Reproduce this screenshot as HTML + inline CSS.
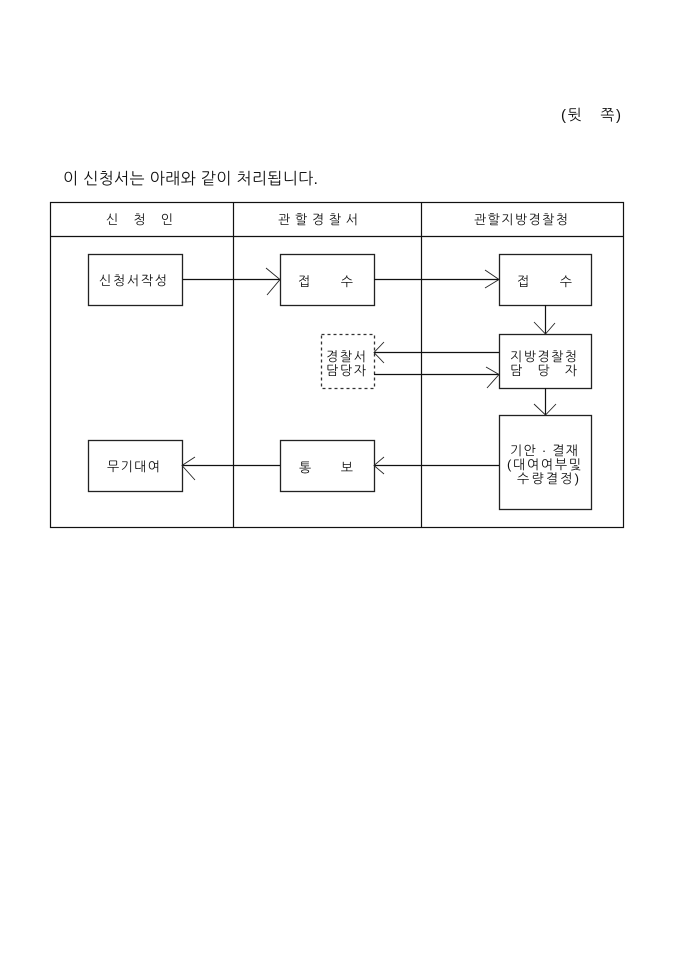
<!DOCTYPE html>
<html lang="ko">
<head>
<meta charset="utf-8">
<style>
html,body{margin:0;padding:0;background:#fff;width:680px;height:962px;overflow:hidden}
svg{display:block}
text{font-family:"Liberation Sans","NanumGothic","Noto Sans CJK KR",sans-serif;fill:#111;font-size:13px}
.l{fill:none;stroke:#111;stroke-width:1.2}
.b{fill:none;stroke:#222;stroke-width:1.3}
.h{fill:none;stroke:#222;stroke-width:.9}
</style>
</head>
<body>
<svg width="680" height="962" viewBox="0 0 680 962" xmlns="http://www.w3.org/2000/svg">
<text x="561" y="120" style="font-size:15px" textLength="60" lengthAdjust="spacing" xml:space="preserve">(뒷   쪽)</text>
<text x="63" y="184" style="font-size:16px" textLength="255" lengthAdjust="spacing">이 신청서는 아래와 같이 처리됩니다.</text>

<rect class="l" x="50.5" y="202.5" width="573" height="325"/>
<path class="l" d="M233.5 202.5V527.5M421.5 202.5V527.5M50.5 236.5H623.5"/>

<text x="106" y="224" textLength="67" lengthAdjust="spacing" xml:space="preserve">신  청  인</text>
<text x="278" y="224" textLength="80" lengthAdjust="spacing">관할경찰서</text>
<text x="474" y="224" textLength="94" lengthAdjust="spacing">관할지방경찰청</text>

<rect class="b" x="88.5" y="254.5" width="94" height="51"/>
<rect class="b" x="280.5" y="254.5" width="94" height="51"/>
<rect class="b" x="499.5" y="254.5" width="92" height="51"/>
<rect class="b" x="499.5" y="334.5" width="92" height="54"/>
<rect class="b" x="499.5" y="415.5" width="92" height="94"/>
<rect class="b" x="88.5" y="440.5" width="94" height="51"/>
<rect class="b" x="280.5" y="440.5" width="94" height="51"/>
<rect x="321.5" y="334.5" width="53" height="54" fill="none" stroke="#333" stroke-width="1.3" stroke-dasharray="3 3"/>

<text x="99" y="285" textLength="68" lengthAdjust="spacing">신청서작성</text>
<text x="298" y="286" textLength="55" lengthAdjust="spacing" xml:space="preserve">접     수</text>
<text x="517" y="286" textLength="55" lengthAdjust="spacing" xml:space="preserve">접     수</text>
<text x="510" y="361" textLength="67" lengthAdjust="spacing">지방경찰청</text>
<text x="510" y="375" textLength="67" lengthAdjust="spacing" xml:space="preserve">담   당   자</text>
<text x="326" y="361" textLength="40" lengthAdjust="spacing">경찰서</text>
<text x="326" y="375" textLength="40" lengthAdjust="spacing">담당자</text>
<text x="510" y="455" textLength="68" lengthAdjust="spacing">기안 · 결재</text>
<text x="507" y="469" textLength="74" lengthAdjust="spacing">(대여여부및</text>
<text x="517" y="483" textLength="62" lengthAdjust="spacing">수량결정)</text>
<text x="107" y="471" textLength="53" lengthAdjust="spacing">무기대여</text>
<text x="299" y="472" textLength="54" lengthAdjust="spacing" xml:space="preserve">통     보</text>

<path class="l" d="M183 279.5H280M374 279.5H499M545.5 305V334M374 352.5H499M374 374.5H499M545.5 388V415M374 465.5H499M182 465.5H280"/>
<path class="h" d="M266 268L280 279.5L267 295"/>
<path class="h" d="M485 270L499 279.5L485 288"/>
<path class="h" d="M534 322L545.5 334L555 323"/>
<path class="h" d="M384 342L374 352.5L384 363"/>
<path class="h" d="M486 367L499 374.5L487 388"/>
<path class="h" d="M534 404L545.5 415L556 404"/>
<path class="h" d="M384 457L374 465.5L384 474"/>
<path class="h" d="M195 457L182 465.5L195 480"/>
</svg>
</body>
</html>
